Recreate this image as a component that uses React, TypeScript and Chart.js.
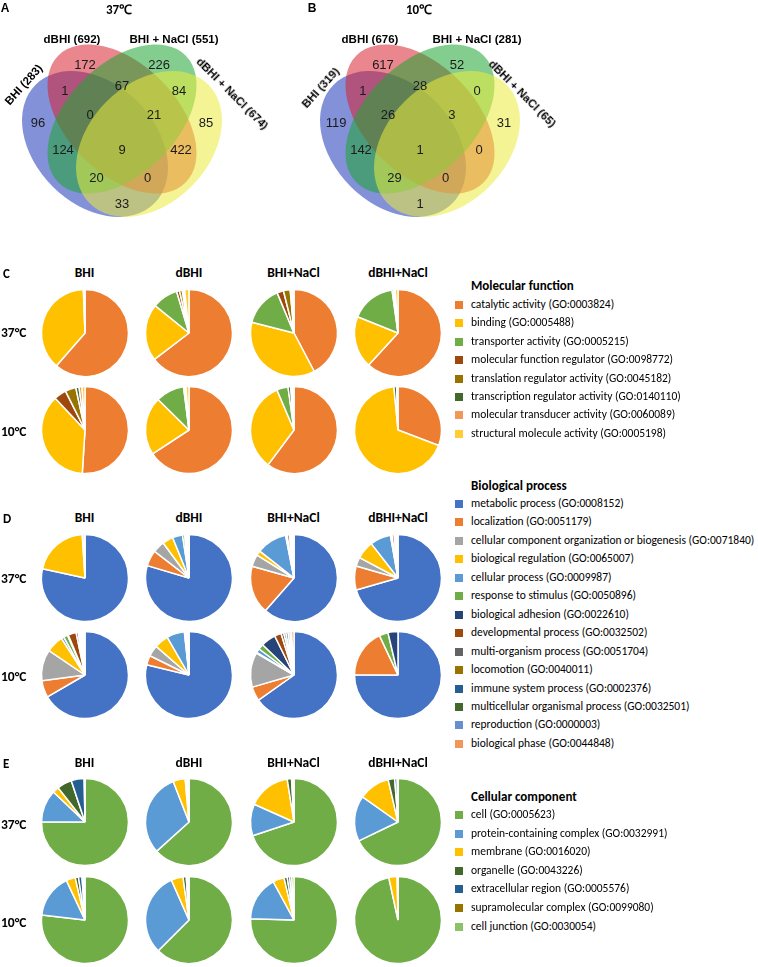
import React, { useEffect, useRef } from "react";
import { Chart, registerables } from "chart.js";
Chart.register(...registerables);

// ---------------- Venn data ----------------
const vennSets37 = ["BHI (283)", "dBHI (692)", "BHI + NaCl (551)", "dBHI + NaCl (674)"];
const vennSets10 = ["BHI (319)", "dBHI (676)", "BHI + NaCl (281)", "dBHI + NaCl (65)"];
// regions: A=BHI, B=dBHI, C=BHI+NaCl, D=dBHI+NaCl
const vennRegions = ["A", "B", "C", "D", "AB", "BC", "CD", "ABC", "BCD", "AC", "ABCD", "BD", "ACD", "ABD", "AD"];
const vennCounts37 = [96, 172, 226, 85, 1, 67, 84, 0, 21, 124, 9, 422, 20, 0, 33];
const vennCounts10 = [119, 617, 52, 31, 1, 28, 0, 26, 3, 142, 1, 0, 29, 0, 1];
// label anchor positions (layout, unit square)
const vennLabelX = [0.135, 0.339, 0.661, 0.865, 0.252, 0.5, 0.748, 0.361, 0.639, 0.2435, 0.5, 0.7565, 0.389, 0.611, 0.5];
const vennLabelY = [0.465, 0.717, 0.717, 0.465, 0.604, 0.626, 0.604, 0.5, 0.5, 0.348, 0.348, 0.348, 0.226, 0.226, 0.113];

const ELLIPSES = [
  { x: 0.3826, y: 0.3739, a: 0.365, b: 0.261, rot: 135, fill: "rgba(30,55,185,0.55)" },
  { x: 0.5, y: 0.4826, a: 0.391, b: 0.239, rot: 135, fill: "rgba(215,35,50,0.55)" },
  { x: 0.5, y: 0.4826, a: 0.391, b: 0.239, rot: 45, fill: "rgba(30,165,50,0.55)" },
  { x: 0.6174, y: 0.3739, a: 0.365, b: 0.261, rot: 45, fill: "rgba(235,235,60,0.55)" },
];

// ---------------- Pie data ----------------
const conditions = ["BHI", "dBHI", "BHI+NaCl", "dBHI+NaCl"];
const temperatures = ["37°C", "10°C"];

const mfLabels = [
  "catalytic activity (GO:0003824)",
  "binding (GO:0005488)",
  "transporter activity (GO:0005215)",
  "molecular function regulator (GO:0098772)",
  "translation regulator activity (GO:0045182)",
  "transcription regulator activity (GO:0140110)",
  "molecular transducer activity (GO:0060089)",
  "structural molecule activity (GO:0005198)",
];
const mfColors = ["#ED7D31", "#FFC000", "#70AD47", "#9E480E", "#997300", "#43682B", "#F1975A", "#FFCD33"];
const mf37_BHI = [61.4, 38.0, 0, 0, 0, 0, 0, 0.6];
const mf37_dBHI = [64.6, 21.2, 9.6, 1.1, 1.0, 0.3, 0.6, 1.6];
const mf37_BHINaCl = [42.3, 36.7, 14.7, 2.4, 2.5, 0.4, 0.5, 0.5];
const mf37_dBHINaCl = [61.8, 19.3, 16.7, 0, 0, 0.6, 0.6, 1.0];
const mf10_BHI = [51.0, 37.0, 0, 4.6, 4.0, 1.2, 1.1, 1.1];
const mf10_dBHI = [65.8, 21.6, 10.6, 0, 0, 0.4, 0.5, 1.1];
const mf10_BHINaCl = [60.2, 33.4, 4.2, 0, 0, 1.0, 0.6, 0.6];
const mf10_dBHINaCl = [30.8, 67.7, 0, 0, 0, 1.0, 0, 0.5];

const bpLabels = [
  "metabolic process (GO:0008152)",
  "localization (GO:0051179)",
  "cellular component organization or biogenesis (GO:0071840)",
  "biological regulation (GO:0065007)",
  "cellular process (GO:0009987)",
  "response to stimulus (GO:0050896)",
  "biological adhesion (GO:0022610)",
  "developmental process (GO:0032502)",
  "multi-organism process (GO:0051704)",
  "locomotion (GO:0040011)",
  "immune system process (GO:0002376)",
  "multicellular organismal process (GO:0032501)",
  "reproduction (GO:0000003)",
  "biological phase (GO:0044848)",
];
const bpColors = ["#4472C4", "#ED7D31", "#A5A5A5", "#FFC000", "#5B9BD5", "#70AD47", "#264478", "#9E480E", "#636363", "#997300", "#255E91", "#43682B", "#698ED0", "#F1975A"];
const bp37_BHI = [78.4, 0, 0, 20.6, 0.7, 0, 0, 0, 0, 0, 0, 0, 0, 0.3];
const bp37_dBHI = [79.6, 5.9, 4.4, 4.0, 3.7, 0.8, 0.3, 0.3, 0.3, 0.2, 0.2, 0.1, 0.1, 0.1];
const bp37_BHINaCl = [61.6, 17.9, 4.5, 1.8, 11.3, 0.3, 0.3, 0.8, 0.5, 0.3, 0.3, 0.2, 0.2, 0.2];
const bp37_dBHINaCl = [70.4, 8.9, 3.3, 6.7, 7.7, 0.3, 0.3, 0.8, 0.3, 0.2, 0.2, 0.2, 0.2, 0.3];
const bp10_BHI = [66.6, 6.3, 11.6, 6.4, 1.0, 1.5, 0.3, 3.0, 0.8, 0.5, 0.5, 0.5, 0.5, 0.5];
const bp10_dBHI = [78.8, 3.5, 4.1, 5.3, 6.6, 0.3, 0.2, 0.3, 0.2, 0.2, 0.2, 0.1, 0.1, 0.1];
const bp10_BHINaCl = [65.2, 5.3, 12.9, 0.3, 1.5, 2.0, 5.5, 2.5, 1.0, 0.8, 0.8, 0.7, 0.6, 0.9];
const bp10_dBHINaCl = [75.1, 17.9, 0, 0, 0, 3.3, 3.7, 0, 0, 0, 0, 0, 0, 0];

const ccLabels = [
  "cell (GO:0005623)",
  "protein-containing complex (GO:0032991)",
  "membrane (GO:0016020)",
  "organelle (GO:0043226)",
  "extracellular region (GO:0005576)",
  "supramolecular complex (GO:0099080)",
  "cell junction (GO:0030054)",
];
const ccColors = ["#70AD47", "#5B9BD5", "#FFC000", "#43682B", "#255E91", "#997300", "#8CC168"];
const cc37_BHI = [75.0, 12.1, 2.3, 5.5, 4.8, 0.2, 0.1];
const cc37_dBHI = [63.3, 30.8, 4.5, 0.6, 0.4, 0.2, 0.2];
const cc37_BHINaCl = [69.9, 11.8, 15.8, 1.6, 0.4, 0.3, 0.2];
const cc37_dBHINaCl = [67.2, 16.8, 11.4, 2.4, 0.9, 0.2, 0.1];
const cc10_BHI = [76.8, 16.2, 3.4, 1.2, 1.3, 0.6, 0.5];
const cc10_dBHI = [62.5, 30.9, 4.4, 1.2, 0.4, 0.3, 0.3];
const cc10_BHINaCl = [75.5, 16.6, 4.2, 1.2, 0.9, 0.8, 0.8];
const cc10_dBHINaCl = [96.6, 0, 3.1, 0, 0, 0.2, 0.1];

// ---------------- layout ----------------
const COL_X = [84.5, 189, 293.5, 398];
const CAL = "Carlito, Calibri, 'Liberation Sans Narrow', Lato, sans-serif";
const ARIAL = "'Liberation Sans', Arial, sans-serif";
const VENN_SIZE = 230;

function PieCanvas({ values, colors, cx, cy }: any) {
  const ref = useRef<HTMLCanvasElement | null>(null);
  useEffect(() => {
    const chart = new Chart(ref.current as HTMLCanvasElement, {
      type: "pie",
      data: {
        labels: values.map((_: number, i: number) => String(i)),
        datasets: [
          {
            data: values,
            backgroundColor: colors,
            borderColor: "#ffffff",
            borderWidth: 1.5,
            hoverOffset: 0,
            offset: 0,
            radius: 43.5,
          } as any,
        ],
      },
      options: {
        animation: false,
        responsive: false,
        events: [],
        layout: { padding: 0 },
        plugins: { legend: { display: false }, tooltip: { enabled: false } },
      },
    });
    return () => chart.destroy();
  }, []);
  return (
    <canvas
      ref={ref}
      width={96}
      height={96}
      style={{ position: "absolute", left: cx - 48, top: cy - 48, width: 96, height: 96 }}
    />
  );
}

function VennCanvas({ counts, left }: any) {
  const ref = useRef<HTMLCanvasElement | null>(null);
  useEffect(() => {
    const plugin = {
      id: "venn",
      beforeDatasetsDraw(chart: any) {
        const { ctx, scales } = chart;
        const sx = scales.x.getPixelForValue(1) - scales.x.getPixelForValue(0);
        const sy = scales.y.getPixelForValue(0) - scales.y.getPixelForValue(1);
        ELLIPSES.forEach((e) => {
          ctx.save();
          ctx.translate(scales.x.getPixelForValue(e.x), scales.y.getPixelForValue(e.y));
          ctx.scale(sx, -sy);
          ctx.rotate((e.rot * Math.PI) / 180);
          ctx.beginPath();
          ctx.ellipse(0, 0, e.a, e.b, 0, 0, Math.PI * 2);
          ctx.restore();
          ctx.fillStyle = e.fill;
          ctx.fill();
        });
      },
      afterDatasetsDraw(chart: any) {
        const { ctx } = chart;
        const meta = chart.getDatasetMeta(0);
        ctx.save();
        ctx.fillStyle = "#1a1a1a";
        ctx.font = `13px ${ARIAL}`;
        ctx.textAlign = "center";
        ctx.textBaseline = "middle";
        meta.data.forEach((pt: any, i: number) => {
          ctx.fillText(String(counts[i]), pt.x, pt.y);
        });
        ctx.restore();
      },
    };
    const chart = new Chart(ref.current as HTMLCanvasElement, {
      type: "scatter",
      data: {
        labels: vennRegions,
        datasets: [
          {
            data: vennLabelX.map((x, i) => ({ x, y: vennLabelY[i] })),
            pointRadius: 0,
          },
        ],
      },
      options: {
        animation: false,
        responsive: false,
        events: [],
        layout: { padding: 0 },
        scales: {
          x: { type: "linear", min: 0, max: 1, display: false },
          y: { type: "linear", min: 0, max: 1, display: false },
        },
        plugins: { legend: { display: false }, tooltip: { enabled: false } },
      },
      plugins: [plugin],
    });
    return () => chart.destroy();
  }, []);
  return (
    <canvas
      ref={ref}
      width={VENN_SIZE}
      height={VENN_SIZE}
      style={{ position: "absolute", left, top: 0, width: VENN_SIZE, height: VENN_SIZE }}
    />
  );
}

function T({ x, y, children, size = 12, bold = false, font = CAL, align = "center", rot = 0 }: any) {
  const tx = align === "center" ? "-50%" : "0";
  return (
    <div
      style={{
        position: "absolute",
        left: x,
        top: y,
        transform: `translate(${tx},-50%) rotate(${rot}deg)`,
        whiteSpace: "nowrap",
        fontFamily: font,
        fontSize: size,
        fontWeight: bold ? 700 : 400,
        color: "#000",
        lineHeight: 1,
      }}
    >
      {children}
    </div>
  );
}

function Legend({ title, labels, colors, titleY, firstY, step }: any) {
  return (
    <>
      <T x={471} y={titleY} size={13} bold align="left">
        {title}
      </T>
      {labels.map((l: string, i: number) => (
        <React.Fragment key={l}>
          <div
            style={{
              position: "absolute",
              left: 455,
              top: firstY + i * step - 4,
              width: 8,
              height: 8,
              background: colors[i],
            }}
          />
          <T x={471} y={firstY + i * step} size={11.5} align="left">
            {l}
          </T>
        </React.Fragment>
      ))}
    </>
  );
}

function PieSection({ letter, headerY, rowY, labelY, data, colors }: any) {
  return (
    <>
      <T x={3} y={headerY} size={13} bold align="left">
        {letter}
      </T>
      {conditions.map((c, i) => (
        <T key={c} x={COL_X[i]} y={headerY} size={13.5} bold>
          {c}
        </T>
      ))}
      {temperatures.map((t, r) => (
        <T key={t} x={1} y={labelY[r]} size={13.5} bold align="left">
          {t}
        </T>
      ))}
      {data.map((row: number[][], r: number) =>
        row.map((vals: number[], c: number) => (
          <PieCanvas key={`${r}-${c}`} values={vals} colors={colors} cx={COL_X[c]} cy={rowY[r]} />
        ))
      )}
    </>
  );
}

export default function App() {
  return (
    <div
      style={{
        position: "absolute",
        left: 0,
        top: 0,
        width: 758,
        height: 967,
        background: "#fff",
        overflow: "hidden",
      }}
    >
      {/* Venn A */}
      <VennCanvas counts={vennCounts37} left={7} />
      <T x={5} y={8} size={12} bold font={ARIAL}>A</T>
      <T x={119} y={9} size={13} bold font={CAL}>37℃</T>
      <T x={72} y={40} size={11.5} bold font={ARIAL}>{vennSets37[1]}</T>
      <T x={174} y={40} size={11.5} bold font={ARIAL}>{vennSets37[2]}</T>
      <T x={23.5} y={85} size={11.5} bold font={ARIAL} rot={-48}>{vennSets37[0]}</T>
      <T x={232} y={94} size={11.5} bold font={ARIAL} rot={45}>{vennSets37[3]}</T>

      {/* Venn B */}
      <VennCanvas counts={vennCounts10} left={305} />
      <T x={312} y={8} size={12} bold font={ARIAL}>B</T>
      <T x={419} y={9} size={13} bold font={CAL}>10℃</T>
      <T x={370} y={40} size={11.5} bold font={ARIAL}>{vennSets10[1]}</T>
      <T x={477} y={40} size={11.5} bold font={ARIAL}>{vennSets10[2]}</T>
      <T x={321} y={88} size={11.5} bold font={ARIAL} rot={-48}>{vennSets10[0]}</T>
      <T x={522} y={94} size={11.5} bold font={ARIAL} rot={45}>{vennSets10[3]}</T>

      {/* C: Molecular function */}
      <PieSection
        letter="C"
        headerY={273}
        rowY={[333, 430]}
        labelY={[333, 432]}
        colors={mfColors}
        data={[
          [mf37_BHI, mf37_dBHI, mf37_BHINaCl, mf37_dBHINaCl],
          [mf10_BHI, mf10_dBHI, mf10_BHINaCl, mf10_dBHINaCl],
        ]}
      />
      <Legend title="Molecular function" labels={mfLabels} colors={mfColors} titleY={285} firstY={305} step={18.4} />

      {/* D: Biological process */}
      <PieSection
        letter="D"
        headerY={518}
        rowY={[578, 675]}
        labelY={[579, 677]}
        colors={bpColors}
        data={[
          [bp37_BHI, bp37_dBHI, bp37_BHINaCl, bp37_dBHINaCl],
          [bp10_BHI, bp10_dBHI, bp10_BHINaCl, bp10_dBHINaCl],
        ]}
      />
      <Legend title="Biological process" labels={bpLabels} colors={bpColors} titleY={485} firstY={504} step={18.45} />

      {/* E: Cellular component */}
      <PieSection
        letter="E"
        headerY={763}
        rowY={[822, 920]}
        labelY={[825, 923]}
        colors={ccColors}
        data={[
          [cc37_BHI, cc37_dBHI, cc37_BHINaCl, cc37_dBHINaCl],
          [cc10_BHI, cc10_dBHI, cc10_BHINaCl, cc10_dBHINaCl],
        ]}
      />
      <Legend title="Cellular component" labels={ccLabels} colors={ccColors} titleY={796} firstY={815} step={18.6} />
    </div>
  );
}
